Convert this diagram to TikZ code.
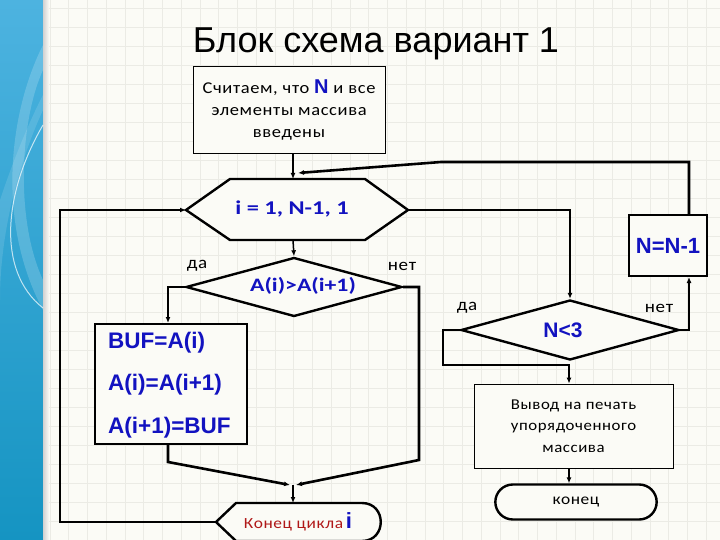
\documentclass[tikz,border=0pt]{standalone}
\usepackage{fontspec}
\setmainfont{Liberation Sans}
\newfontfamily\calfont[FakeStretch=1.12, LetterSpace=4]{Carlito}
\newfontfamily\wcal[FakeStretch=1.25]{Carlito}
\usetikzlibrary{arrows.meta,shapes.geometric,shapes.misc}
\definecolor{bgc}{HTML}{FBFBF6}
\definecolor{gridc}{HTML}{EBEBE5}
\definecolor{tblue}{HTML}{1212C0}
\definecolor{tred}{HTML}{B01818}
\definecolor{stripT}{HTML}{4DB3E0}
\definecolor{stripB}{HTML}{1594C2}
\begin{document}
\begin{tikzpicture}[x=1pt,y=-1pt,
  arr/.style={-{Latex[length=6pt,width=5pt]}, line width=1.5pt},
  thk/.style={-{Latex[length=6pt,width=5pt]}, line width=2.6pt},
  thin box/.style={draw, line width=0.8pt, fill=bgc},
  blue bold/.style={text=tblue, font=\bfseries\fontsize{22.5}{24}\selectfont, inner sep=0pt},
  lbl/.style={font=\calfont\fontsize{17}{20}\selectfont, inner sep=0pt},
  small text/.style={font=\calfont\fontsize{15}{21.5}\selectfont, align=center}]
\useasboundingbox (0,0) rectangle (720,540);
% background and grid
\fill[bgc] (0,0) rectangle (720,540);
\foreach \i in {0,...,36} {
  \draw[gridc, line width=0.7pt] (50+18.75*\i,0) -- (50+18.75*\i,540);
}
\foreach \j in {0,...,28} {
  \draw[gridc, line width=0.7pt] (43,8+19*\j) -- (720,8+19*\j);
}
% left strip
\shade[top color=stripT, bottom color=stripB] (0,0) rectangle (43,540);
\shade[left color=black!18, right color=bgc] (43,0) rectangle (49,540);
\fill[white, opacity=0.18] (43,45) .. controls (10,110) and (-5,220) .. (43,310) -- (43,280) .. controls (15,220) and (20,120) .. (43,70) -- cycle;
\fill[white, opacity=0.12] (43,110) .. controls (20,160) and (0,230) .. (0,300) -- (0,200) .. controls (10,170) and (25,130) .. (43,95) -- cycle;
\draw[white, opacity=0.7, line width=1pt] (43,125) .. controls (5,190) and (-5,270) .. (43,308);
% title
\node[font=\fontsize{36}{40}\selectfont, inner sep=0pt] (title) at (376,44) {Блок схема вариант 1};
% start box
\node[thin box, minimum width=192, minimum height=87, small text, font=\calfont\fontsize{16.5}{22}\selectfont] (start) at (289,109.5)
  {Считаем, что {\normalfont\bfseries\color{tblue}\fontsize{20}{22}\selectfont N} и все\\элементы массива\\введены};
% hexagon loop header
\coordinate (hl) at (186,210);
\coordinate (hr) at (408,210);
\coordinate (ht) at (293,179);
\coordinate (hb) at (293,240);
\draw[line width=2.4pt, fill=bgc] (hl) -- (230,179) -- (365,179) -- (hr) -- (365,240) -- (230,240) -- cycle;
\node[text=tblue, font=\wcal\bfseries\fontsize{19.5}{22}\selectfont, inner sep=0pt] (hex) at (292,209) {i = 1, N-1, 1};
% diamond A(i)>A(i+1)
\node[diamond, draw, line width=2.4pt, fill=bgc, minimum width=216, minimum height=59, inner sep=0pt] (dA) at (294,287) {};
\node[text=tblue, font=\wcal\bfseries\fontsize{19}{21}\selectfont, inner sep=0pt] (tA) at (303,286) {A(i)>A(i+1)};
% BUF box
\node[draw, line width=2pt, fill=bgc, minimum width=152, minimum height=120] (buf) at (171,384) {};
\node[blue bold, anchor=west] (b1) at (108,343) {BUF=A(i)};
\node[blue bold, anchor=west] (b2) at (108,385) {A(i)=A(i+1)};
\node[blue bold, anchor=west] (b3) at (108,428) {A(i+1)=BUF};
% loop end
\coordinate (lel) at (216,522);
\coordinate (let) at (293,503);
\draw[line width=2.4pt, fill=bgc] (lel) -- (236,503) -- (362,503) .. controls (387,503) and (387,541) .. (362,541) -- (236,541) -- cycle;
\node[inner sep=0pt] (le) at (298,522) {{\calfont\fontsize{15.5}{18}\selectfont\color{tred}Конец цикла} {\bfseries\fontsize{22}{24}\selectfont\color{tblue}i}};
% right part
\node[draw, line width=2pt, fill=bgc, minimum width=78, minimum height=61, blue bold, font=\bfseries\fontsize{22}{24}\selectfont] (nn) at (668,245.5) {N=N-1};
\node[diamond, draw, line width=2.4pt, fill=bgc, minimum width=218, minimum height=60, inner sep=0pt] (dN) at (570,330) {};
\node[text=tblue, font=\fontsize{21}{24}\selectfont\bfseries, inner sep=0pt] (tN) at (563,330) {N<3};
\node[thin box, minimum width=199, minimum height=84, small text] (out) at (573.5,426)
  {Вывод на печать\\упорядоченного\\массива};
\node[rounded rectangle, draw, line width=2.4pt, fill=bgc, minimum width=168, minimum height=35, font=\calfont\fontsize{15.5}{18}\selectfont] (term) at (576,502) {конец};
% labels
\node[lbl] (da1) at (197,266) {да};
\node[lbl] (net1) at (402,266) {нет};
\node[lbl] (da2) at (467,308) {да};
\node[lbl] (net2) at (659,308) {нет};
% connectors
\coordinate (rx) at (689,0);
\coordinate (ret) at (298,173);
\coordinate (bend) at (441,162);
\coordinate (jl) at (290,485);
\coordinate (jr) at (296,485);
\coordinate (jc) at (293,485);
\draw[arr] (start.south -| ht) -- (ht);
\draw[thk] (nn.north -| rx) -- (bend -| rx) -- (bend) -- (ret);
\draw[arr] (hr) -- (hr -| dN.north) -- (dN.north);
\draw[arr] (dN.east) -- (dN.east -| rx) -- (nn.south -| rx);
\draw[arr] (dN.west) -- (443,330) -- (443,365) -- (569,365) -- (out.north -| 569,0);
\draw[arr] (out.south -| 569,0) -- (term.north -| 569,0);
\draw[arr] (hb) -- (dA.north);
\draw[arr] (dA.west) -- (168,287) -- (buf.north -| 168,0);
\draw[thk] (buf.south -| 168,0) -- (168,462) -- (jl);
\draw[thk] (dA.east) -- (419,287) -- (419,460) -- (jr);
\draw[arr] (jc) -- (let);
\draw[thk] (lel) -- (60,522) -- (60,210) -- (hl);
\end{tikzpicture}
\end{document}
